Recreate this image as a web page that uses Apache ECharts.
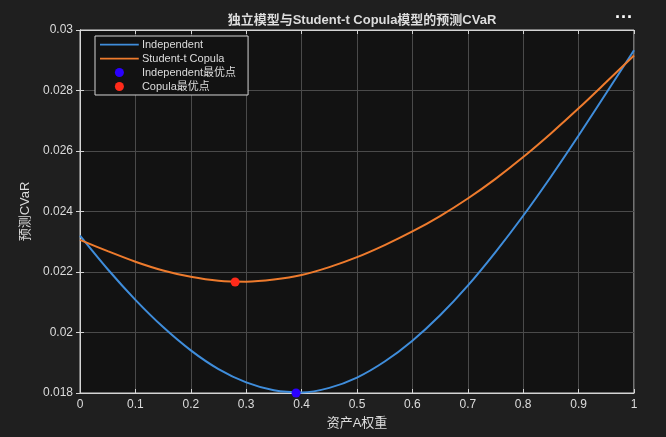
<!DOCTYPE html>
<html>
<head>
<meta charset="utf-8">
<script src="https://cdn.jsdelivr.net/npm/echarts@6/dist/echarts.min.js"></script>
<style>
  html, body { margin: 0; padding: 0; background: #1f1f1f; }
  #chart_main { width: 666px; height: 437px; }
</style>
</head>
<body>
<div id="chart_main"></div>
<script>
var weights = [0, 0.05, 0.1, 0.15, 0.2, 0.25, 0.3, 0.35, 0.4, 0.45, 0.5,
               0.55, 0.6, 0.65, 0.7, 0.75, 0.8, 0.85, 0.9, 0.95, 1];
var independentCVaR = [0.0232, 0.02209, 0.02108, 0.02018, 0.01941, 0.01879, 0.01835, 0.01809, 0.01802, 0.01817, 0.01851,
                       0.01904, 0.01973, 0.02057, 0.02155, 0.02266, 0.02386, 0.02515, 0.02651, 0.02792, 0.02933];
var copulaCVaR = [0.02306, 0.02269, 0.02234, 0.02205, 0.02184, 0.02171, 0.02168, 0.02175, 0.0219, 0.02216, 0.02249,
                  0.02289, 0.02334, 0.02385, 0.02443, 0.02508, 0.0258, 0.02658, 0.02741, 0.02828, 0.02916];
var independentBest = [0.39, 0.0180];
var copulaBest = [0.28, 0.02167];
var seriesNames = ['Independent', 'Student-t Copula', 'Independent最优点', 'Copula最优点'];

var axisColor = '#d4d4d4';
var textColor = '#dcdcdc';
// thin line inside a 39x9 box, so the legend keeps it thin
var lineIcon = 'path://M0,3.7h39v1.8h-39z M0,0h0.05v0.05h-0.05z M0,9h0.05v0.05h-0.05z';

function pairs(xs, ys) {
    return xs.map(function (x, i) { return [x, ys[i]]; });
}

var myChart = echarts.init(document.getElementById('chart_main'));
var option = {
    backgroundColor: '#1f1f1f',
    textStyle: { fontFamily: 'Arial, "Noto Sans CJK SC", sans-serif' },
    title: {
        text: '独立模型与Student-t Copula模型的预测CVaR',
        left: 357,
        textAlign: 'center',
        top: 9,
        textStyle: { color: textColor, fontSize: 13, fontWeight: 'bold' }
    },
    graphic: [{
        type: 'text',
        left: 615,
        top: 9,
        style: { text: '···', fill: '#ffffff', fontSize: 18, fontWeight: 'bold' }
    }],
    legend: {
        orient: 'vertical',
        left: 95,
        top: 36,
        data: [
            { name: seriesNames[0], icon: lineIcon },
            { name: seriesNames[1], icon: lineIcon },
            { name: seriesNames[2], icon: 'circle' },
            { name: seriesNames[3], icon: 'circle' }
        ],
        itemWidth: 39,
        itemHeight: 9,
        itemGap: 3,
        padding: [3, 12, 3, 5],
        backgroundColor: '#121212',
        borderColor: axisColor,
        borderWidth: 1,
        borderRadius: 0,
        textStyle: { color: textColor, fontSize: 11, padding: [0, 0, 0, -2] }
    },
    grid: {
        left: 80,
        right: 32,
        top: 30,
        bottom: 44,
        show: true,
        backgroundColor: '#121212',
        borderColor: axisColor,
        borderWidth: 1
    },
    xAxis: [{
        type: 'value',
        min: 0,
        max: 1,
        interval: 0.1,
        name: '资产A权重',
        nameLocation: 'middle',
        nameGap: 24,
        nameTextStyle: { color: textColor, fontSize: 13 },
        axisLine: { lineStyle: { color: axisColor } },
        axisTick: { inside: true, length: 4, lineStyle: { color: axisColor } },
        axisLabel: {
            color: textColor, fontSize: 12, margin: 6,
            formatter: function (v) { return String(+v.toFixed(1)); }
        },
        splitLine: { show: true, lineStyle: { color: '#4a4a4a' } }
    }, {
        type: 'value',
        position: 'top',
        min: 0,
        max: 1,
        interval: 0.1,
        axisLine: { show: true, lineStyle: { color: axisColor } },
        axisTick: { inside: true, length: 4, lineStyle: { color: axisColor } },
        axisLabel: { show: false },
        splitLine: { show: false }
    }],
    yAxis: [{
        type: 'value',
        min: 0.018,
        max: 0.03,
        interval: 0.002,
        name: '预测CVaR',
        nameLocation: 'middle',
        nameGap: 41,
        nameTextStyle: { color: textColor, fontSize: 13 },
        axisLine: { show: true, lineStyle: { color: axisColor } },
        axisTick: { show: true, inside: true, length: 4, lineStyle: { color: axisColor } },
        axisLabel: {
            color: textColor, fontSize: 12, margin: 7,
            formatter: function (v) { return String(+v.toFixed(3)); }
        },
        splitLine: { show: true, lineStyle: { color: '#4a4a4a' } }
    }, {
        type: 'value',
        position: 'right',
        min: 0.018,
        max: 0.03,
        interval: 0.002,
        axisLine: { show: true, lineStyle: { color: axisColor } },
        axisTick: { show: true, inside: true, length: 4, lineStyle: { color: axisColor } },
        axisLabel: { show: false },
        splitLine: { show: false }
    }],
    series: [{
        name: seriesNames[0],
        type: 'line',
        data: pairs(weights, independentCVaR),
        smooth: 0.3,
        symbol: 'none',
        lineStyle: { color: '#3f8ddb', width: 2 },
        itemStyle: { color: '#3f8ddb' }
    }, {
        name: seriesNames[1],
        type: 'line',
        data: pairs(weights, copulaCVaR),
        smooth: 0.3,
        symbol: 'none',
        lineStyle: { color: '#ee7b2d', width: 2 },
        itemStyle: { color: '#ee7b2d' }
    }, {
        name: seriesNames[2],
        type: 'scatter',
        data: [independentBest],
        symbolSize: 9,
        itemStyle: { color: '#2a00ff', opacity: 1 },
        z: 5
    }, {
        name: seriesNames[3],
        type: 'scatter',
        data: [copulaBest],
        symbolSize: 9,
        itemStyle: { color: '#ff2a1a', opacity: 1 },
        z: 5
    }]
};
myChart.setOption(option);
</script>
</body>
</html>
